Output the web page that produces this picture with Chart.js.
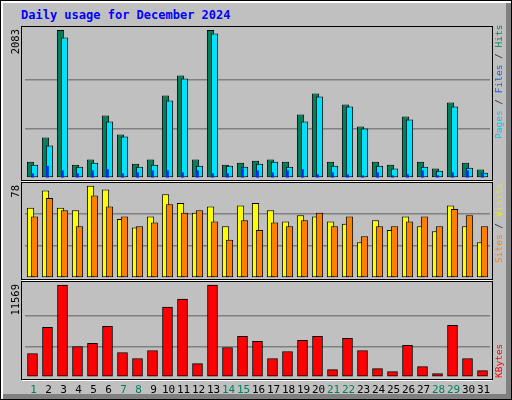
<!DOCTYPE html>
<html>
<head>
<meta charset="utf-8">
<script src="https://cdn.jsdelivr.net/npm/chart.js@4"></script>
<style>
  body { margin: 0; background: #fff; }
  #frame {
    position: absolute; left: 0; top: 0; width: 510px; height: 398px;
    background: #c0c0c0; border: 1px solid #000;
    box-shadow: inset 2px 2px 0 #fff, inset -5px -5px 0 #808080;
  }
  #title {
    position: absolute; left: 20px; top: 7px;
    font: bold 12px "DejaVu Sans Mono", monospace; color: #0000ff;
  }
  canvas { position: absolute; left: 0; top: 0; }
</style>
</head>
<body>
<div id="frame">
  <div id="title">Daily usage for December 2024</div>
  <canvas id="c1" width="512" height="400"></canvas>
  <canvas id="c2" width="512" height="400"></canvas>
  <canvas id="c3" width="512" height="400"></canvas>
</div>
<script>
// data
const days = ['1','2','3','4','5','6','7','8','9','10','11','12','13','14','15','16',
              '17','18','19','20','21','22','23','24','25','26','27','28','29','30','31'];
const weekendDays = ['1','7','8','14','15','21','22','28','29'];
const hits = [230,569,2083,188,259,879,611,202,259,1161,1443,259,2083,188,216,244,
              259,230,893,1189,230,1034,724,230,188,865,230,132,1062,216,118];
const files = [188,456,1979,160,216,794,583,160,188,1090,1401,174,2035,174,160,202,
               230,160,794,1147,174,1006,696,174,132,823,160,103,1006,146,75];
const pages = [61,165,103,61,103,118,61,75,103,103,75,103,61,61,132,103,
               75,103,118,47,75,47,33,75,33,47,103,33,75,103,61];
const visits = [57,71,57,55,75,72,48,41,50,68,61,53,58,42,59,61,
                55,46,51,50,46,44,29,47,39,50,42,38,59,42,29];
const sites = [50,65,55,42,67,58,50,42,45,60,53,55,46,31,47,39,
               45,42,47,53,42,50,34,42,42,46,50,42,56,51,42];
const kbytes = [2954,6246,11569,3840,4220,6372,3081,2321,3334,8778,9790,1688,11569,3714,5106,4473,
                2321,3207,4600,5106,928,4853,3334,1055,675,3967,1308,422,6499,2321,802];
const maxTop = 2083, maxMid = 78, maxBot = 11569;

const MONO = '"DejaVu Sans Mono", monospace';

// draws datasets in array order (first = bottom) instead of Chart.js default
const drawInOrder = {
    id: 'drawInOrder',
    beforeDatasetsDraw(chart) {
        chart.data.datasets.forEach((d, i) => chart.getDatasetMeta(i).controller.draw());
        return false;
    }
};

// frame, rotated labels and day numbers
const decor = {
    id: 'decor',
    afterDraw(chart, args, o) {
        const ctx = chart.ctx;
        ctx.save();
        ctx.strokeStyle = '#000';
        ctx.lineWidth = 1;
        ctx.strokeRect(20.5, o.frameTop + 0.5, 471, o.frameBottom - o.frameTop);
        ctx.strokeStyle = '#fff';
        ctx.beginPath();
        ctx.moveTo(21, o.frameBottom + 1.5); ctx.lineTo(491, o.frameBottom + 1.5);
        ctx.stroke();

        // left max label
        ctx.save();
        ctx.translate(15, o.frameTop + 3);
        ctx.rotate(-Math.PI / 2);
        ctx.font = '10.5px ' + MONO;
        ctx.fillStyle = '#000';
        ctx.textAlign = 'right';
        ctx.textBaseline = 'middle';
        ctx.fillText(o.maxLabel, 0, 0);
        ctx.restore();

        // right legend text, bottom to top
        ctx.save();
        ctx.translate(499, o.legendStart);
        ctx.rotate(-Math.PI / 2);
        ctx.font = '9.5px ' + MONO;
        ctx.textAlign = 'left';
        ctx.textBaseline = 'middle';
        let x = 0;
        o.legend.forEach(([t, c]) => {
            ctx.fillStyle = c;
            ctx.fillText(t, x, 0);
            x += ctx.measureText(t).width;
        });
        ctx.restore();

        if (o.dayLabels) {
            const xs = chart.scales.x;
            ctx.font = '11px ' + MONO;
            ctx.textAlign = 'center';
            ctx.textBaseline = 'middle';
            days.forEach((d, i) => {
                ctx.fillStyle = weekendDays.includes(d) ? '#00805c' : '#000';
                ctx.fillText(d, xs.getPixelForValue(i) + 1, 389);
            });
        }
        ctx.restore();
    }
};

function makeChart(id, datasets, max, top, bottom, opts) {
    return new Chart(document.getElementById(id), {
        type: 'bar',
        data: { labels: days, datasets: datasets },
        options: {
            responsive: false,
            animation: false,
            events: [],
            layout: { padding: { left: 24, right: 23, top: top, bottom: 400 - bottom } },
            scales: {
                x: { display: false },
                y: {
                    min: 0, max: max,
                    afterFit: s => { s.width = 0; },
                    border: { display: false },
                    ticks: { display: false, stepSize: max / 3 },
                    afterBuildTicks: s => {
                        s.ticks = [0, 1, 2, 3].map(k => ({ value: max * k / 3 }));
                    },
                    grid: {
                        color: c => (c.index === 1 || c.index === 2) ? '#808080' : 'rgba(0,0,0,0)',
                        lineWidth: 1.5,
                        drawTicks: false
                    }
                }
            },
            plugins: { legend: { display: false }, tooltip: { enabled: false }, decor: opts }
        },
        plugins: [drawInOrder, decor]
    });
}

const pair = { categoryPercentage: 0.53, barPercentage: 1.83, borderColor: '#000', borderWidth: 1, borderSkipped: false };

makeChart('c1', [
    Object.assign({ data: hits, backgroundColor: '#00805c' }, pair),
    Object.assign({ data: files, backgroundColor: '#00e0ff' }, pair),
    { data: pages, backgroundColor: '#0030ff', borderWidth: 0,
      grouped: false, barThickness: 2 }
], maxTop, 29, 177, {
    frameTop: 25, frameBottom: 179, maxLabel: String(maxTop), legendStart: 138,
    legend: [['Pages', '#00c8f0'], [' / ', '#303030'], ['Files', '#2060d0'], [' / ', '#303030'], ['Hits', '#00805c']]
});

makeChart('c2', [
    Object.assign({ data: visits, backgroundColor: '#ffff00' }, pair),
    Object.assign({ data: sites, backgroundColor: '#ff8000' }, pair)
], maxMid, 181, 277, {
    frameTop: 181, frameBottom: 278, maxLabel: String(maxMid), legendStart: 262,
    legend: [['Sites', '#ff8000'], [' / ', '#303030'], ['Visits', '#e8e800']]
});

makeChart('c3', [
    { data: kbytes, backgroundColor: '#ff0000', borderColor: '#000', borderWidth: 1,
      barThickness: 10, borderSkipped: false }
], maxBot, 284, 376, {
    frameTop: 280, frameBottom: 378, maxLabel: String(maxBot), legendStart: 377,
    legend: [['KBytes', '#ff0000']], dayLabels: true
});
</script>
</body>
</html>
